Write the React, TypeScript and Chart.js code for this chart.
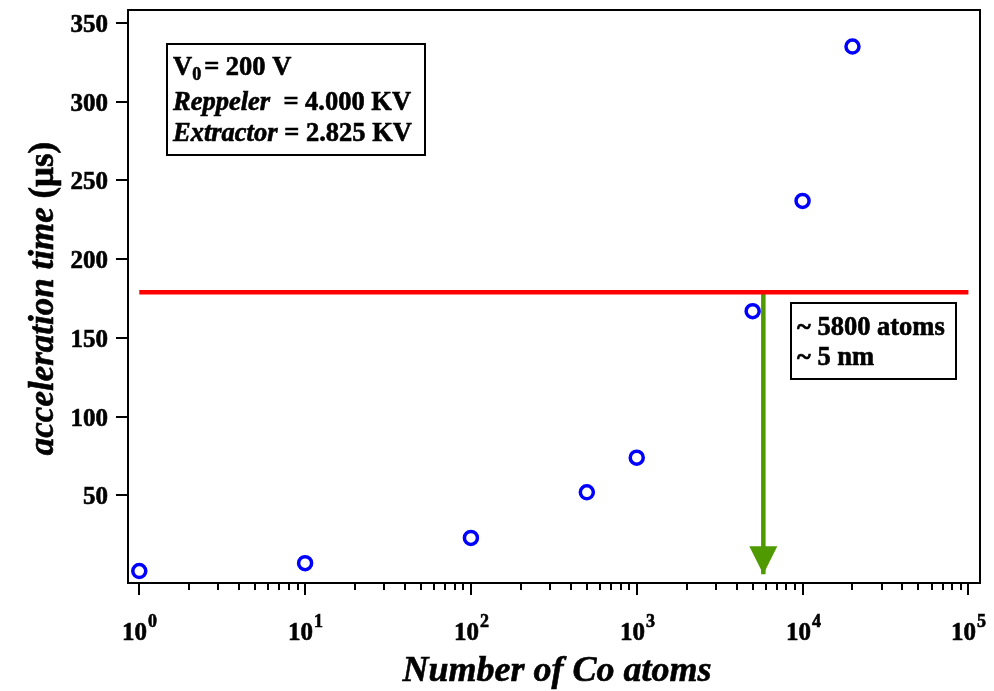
import React, { useEffect, useRef } from "react";
import { Chart, registerables } from "chart.js";

Chart.register(...registerables);

// ---- data ----
const atomCounts = [1, 10, 100, 500, 1000, 5000, 10000, 20000];
const accelTimes = [2, 7, 23, 52, 74, 167, 237, 335];
const thresholdX = [1, 100000];
const thresholdTime = 179;
const arrowAtoms = 5800;
const arrowTimes = [179, 0];
const yTicks = [50, 100, 150, 200, 250, 300, 350];
const xDecades = [1, 10, 100, 1000, 10000, 100000];
const xDecadeExponents = ["0", "1", "2", "3", "4", "5"];
const minorMultipliers = [2, 3, 4, 5, 6, 7, 8, 9];
const xRange = [0.855, 117500];
const yRange = [-5.6, 358.2];

const SERIF = '"Liberation Serif", "Times New Roman", serif';
const GREEN = "#4f9a00";

type Seg = { t: string; italic?: boolean; sub?: boolean };

function boldText(ctx: CanvasRenderingContext2D, t: string, x: number, y: number) {
  ctx.fillText(t, x, y);
  ctx.save();
  ctx.lineWidth = 0.6;
  ctx.strokeStyle = ctx.fillStyle as string;
  ctx.strokeText(t, x, y);
  ctx.restore();
}

function drawSegs(ctx: CanvasRenderingContext2D, segs: Seg[], x: number, y: number, size: number) {
  let cx = x;
  for (const s of segs) {
    const fs = s.sub ? Math.round(size * 0.68) : size;
    ctx.font = `${s.italic ? "italic " : ""}bold ${fs}px ${SERIF}`;
    ctx.textAlign = "left";
    ctx.textBaseline = "alphabetic";
    boldText(ctx, s.t, cx, s.sub ? y + 5 : y);
    cx += ctx.measureText(s.t).width + (s.sub ? 3 : 0);
  }
}

const decorPlugin = {
  id: "decor",
  afterDatasetsDraw(chart: any) {
    const ctx: CanvasRenderingContext2D = chart.ctx;
    const xs = chart.scales.x;
    const ys = chart.scales.y;
    // arrow head
    const tx = xs.getPixelForValue(arrowAtoms);
    const ty = ys.getPixelForValue(arrowTimes[arrowTimes.length - 1]);
    ctx.save();
    ctx.fillStyle = GREEN;
    ctx.beginPath();
    ctx.moveTo(tx, ty);
    ctx.lineTo(tx - 14, ty - 28);
    ctx.lineTo(tx + 14, ty - 28);
    ctx.closePath();
    ctx.fill();
    ctx.restore();
  },
  afterDraw(chart: any) {
    const ctx: CanvasRenderingContext2D = chart.ctx;
    const a = chart.chartArea;
    const xs = chart.scales.x;
    const ys = chart.scales.y;
    ctx.save();
    ctx.strokeStyle = "#000";
    ctx.fillStyle = "#000";
    ctx.lineWidth = 2;
    ctx.strokeRect(a.left, a.top, a.right - a.left, a.bottom - a.top);

    // y ticks + labels
    for (const v of yTicks) {
      const py = Math.round(ys.getPixelForValue(v));
      ctx.beginPath();
      ctx.moveTo(a.left - 12, py);
      ctx.lineTo(a.left, py);
      ctx.stroke();
      ctx.font = `bold 25px ${SERIF}`;
      ctx.textAlign = "right";
      ctx.textBaseline = "alphabetic";
      boldText(ctx, String(v), a.left - 20, py + 8.5);
    }

    // x ticks
    xDecades.forEach((d, i) => {
      const px = Math.round(xs.getPixelForValue(d));
      ctx.beginPath();
      ctx.moveTo(px, a.bottom);
      ctx.lineTo(px, a.bottom + 12);
      ctx.stroke();
      if (i < xDecades.length - 1) {
        for (const m of minorMultipliers) {
          const mx = Math.round(xs.getPixelForValue(d * m));
          ctx.beginPath();
          ctx.moveTo(mx, a.bottom);
          ctx.lineTo(mx, a.bottom + 7);
          ctx.stroke();
        }
      }
      // label 10^n
      ctx.font = `bold 25px ${SERIF}`;
      const w1 = ctx.measureText("10").width;
      ctx.font = `bold 18px ${SERIF}`;
      const w2 = ctx.measureText(xDecadeExponents[i]).width;
      const sx = px - (w1 + w2) / 2;
      ctx.textAlign = "left";
      ctx.textBaseline = "alphabetic";
      ctx.font = `bold 25px ${SERIF}`;
      boldText(ctx, "10", sx, a.bottom + 57);
      ctx.font = `bold 18px ${SERIF}`;
      boldText(ctx, xDecadeExponents[i], sx + w1 + 1, a.bottom + 44);
    });

    // x title
    ctx.font = `italic bold 36px ${SERIF}`;
    ctx.textAlign = "center";
    ctx.textBaseline = "alphabetic";
    boldText(ctx, "Number of Co atoms", (a.left + a.right) / 2 + 3, a.bottom + 98);

    // y title
    ctx.save();
    ctx.translate(53, (a.top + a.bottom) / 2 + 2);
    ctx.rotate(-Math.PI / 2);
    const p1 = "acceleration time";
    const p2 = " (\u03bcs)";
    ctx.font = `italic bold 35px ${SERIF}`;
    const t1 = ctx.measureText(p1).width;
    ctx.font = `bold 35px ${SERIF}`;
    const t2 = ctx.measureText(p2).width;
    const start = -(t1 + t2) / 2;
    ctx.textAlign = "left";
    ctx.font = `italic bold 35px ${SERIF}`;
    boldText(ctx, p1, start, 0);
    ctx.font = `bold 35px ${SERIF}`;
    boldText(ctx, p2, start + t1, 0);
    ctx.restore();

    // annotation box 1
    ctx.lineWidth = 2;
    ctx.fillStyle = "#fff";
    const b1x = a.left + 39, b1y = a.top + 34, b1w = 258, b1h = 111;
    ctx.fillRect(b1x, b1y, b1w, b1h);
    ctx.strokeRect(b1x, b1y, b1w, b1h);
    ctx.fillStyle = "#000";
    drawSegs(ctx, [{ t: "V" }, { t: "0", sub: true }, { t: "= 200 V" }], b1x + 6, b1y + 31, 26.5);
    drawSegs(ctx, [{ t: "Reppeler", italic: true }, { t: "  = 4.000 KV" }], b1x + 6, b1y + 66, 26.5);
    drawSegs(ctx, [{ t: "Extractor", italic: true }, { t: " = 2.825 KV" }], b1x + 6, b1y + 97, 26.5);

    // annotation box 2
    const b2x = 791, b2y = 303, b2w = 165, b2h = 76;
    ctx.fillStyle = "#fff";
    ctx.fillRect(b2x, b2y, b2w, b2h);
    ctx.strokeRect(b2x, b2y, b2w, b2h);
    ctx.fillStyle = "#000";
    drawSegs(ctx, [{ t: "~ 5800 atoms" }], b2x + 6, b2y + 32, 26.5);
    drawSegs(ctx, [{ t: "~ 5 nm" }], b2x + 6, b2y + 62, 26.5);

    ctx.restore();
  },
};

export default function App() {
  const ref = useRef<HTMLCanvasElement | null>(null);
  useEffect(() => {
    document.body.style.margin = "0";
    const canvas = ref.current!;
    const chart = new Chart(canvas, {
      type: "scatter",
      data: {
        datasets: [
          {
            type: "line",
            data: thresholdX.map((x) => ({ x, y: thresholdTime })),
            borderColor: "#ff0000",
            borderWidth: 4.5,
            pointRadius: 0,
          } as any,
          {
            type: "line",
            data: arrowTimes.map((y) => ({ x: arrowAtoms, y })),
            borderColor: GREEN,
            borderWidth: 4.5,
            pointRadius: 0,
          } as any,
          {
            data: atomCounts.map((x, i) => ({ x, y: accelTimes[i] })),
            pointStyle: "circle",
            pointRadius: 6.5,
            borderWidth: 3.5,
            borderColor: "#0000ff",
            backgroundColor: "rgba(255,255,255,0)",
          },
        ],
      },
      options: {
        animation: false,
        responsive: false,
        maintainAspectRatio: false,
        layout: { padding: { left: 128, top: 7, right: 14, bottom: 108 } },
        plugins: { legend: { display: false }, tooltip: { enabled: false } },
        scales: {
          x: { type: "logarithmic", min: xRange[0], max: xRange[1], display: false },
          y: { type: "linear", min: yRange[0], max: yRange[1], display: false },
        },
      },
      plugins: [decorPlugin],
    });
    return () => chart.destroy();
  }, []);
  return <canvas ref={ref} width={994} height={691} style={{ display: "block" }} />;
}
